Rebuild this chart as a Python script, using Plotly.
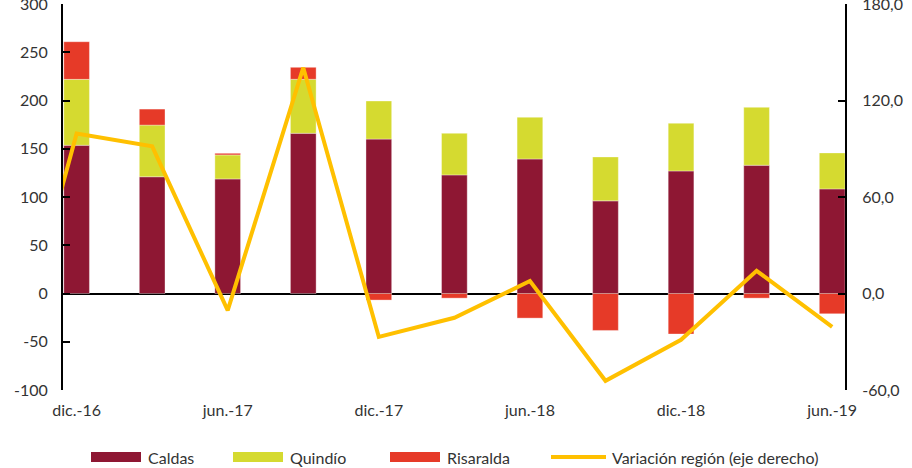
import plotly.graph_objects as go

# quarters; the first one only carries the line segment entering from the left edge
quarters = ["sep.-16", "dic.-16", "mar.-17", "jun.-17", "sep.-17", "dic.-17", "mar.-18",
            "jun.-18", "sep.-18", "dic.-18", "mar.-19", "jun.-19"]
bar_quarters = quarters[1:]

caldas = [153.6, 121.0, 118.7, 166.0, 160.0, 122.9, 139.4, 96.0, 127.0, 132.9, 108.4]
quindio = [68.3, 53.5, 24.9, 56.0, 39.5, 43.1, 43.2, 45.5, 49.4, 60.0, 37.3]
risaralda = [39.0, 16.6, 1.7, 12.4, -6.8, -4.8, -25.5, -38.3, -42.0, -4.8, -21.0]
variacion = [-73.0, 99.4, 91.5, -10.5, 140.4, -27.0, -15.1, 7.8, -54.3, -28.8, 14.1, -20.7]

left_ticks = [-100, -50, 0, 50, 100, 150, 200, 250, 300]
right_ticks = [-60, 0, 60, 120, 180]
right_labels = ["-60,0", "0,0", "60,0", "120,0", "180,0"]

C_CALDAS = "#8E1733"
C_QUINDIO = "#D5DA30"
C_RISARALDA = "#E63A28"
C_LINE = "#FFC000"
FONT = "Lato, sans-serif"
TXT = "#333333"

fig = go.Figure()
for name, vals, col in [("Caldas", caldas, C_CALDAS),
                        ("Quindío", quindio, C_QUINDIO),
                        ("Risaralda", risaralda, C_RISARALDA)]:
    fig.add_trace(go.Bar(
        x=bar_quarters, y=vals, name=name, width=0.34,
        marker=dict(color=col, line=dict(color="rgba(255,255,255,0.35)", width=1)),
    ))

fig.add_trace(go.Scatter(
    x=quarters, y=variacion, name="Variación región (eje derecho)", yaxis="y2",
    mode="lines", line=dict(color=C_LINE, width=4),
))

fig.update_layout(
    width=912, height=468,
    margin=dict(l=63, r=67, t=4, b=78, autoexpand=False),
    paper_bgcolor="white", plot_bgcolor="white",
    barmode="relative",
    showlegend=False,
    font=dict(family=FONT, size=16, color=TXT),
    xaxis=dict(
        type="category", categoryorder="array", categoryarray=quarters,
        range=[0.82, 11.17], tickvals=quarters[1::2], ticktext=quarters[1::2],
        showgrid=False, showline=False, ticks="", zeroline=False,
        ticklabelstandoff=9, automargin=False,
    ),
    yaxis=dict(
        range=[-100, 300], tickvals=left_ticks, ticktext=[str(v) for v in left_ticks],
        showgrid=False, showline=True, linecolor="black", linewidth=2,
        ticks="inside", ticklen=7, tickwidth=2, tickcolor="black",
        zeroline=True, zerolinecolor="black", zerolinewidth=2,
        layer="above traces", ticklabelstandoff=10, automargin=False,
        ticklabeloverflow="allow",
    ),
    yaxis2=dict(
        overlaying="y", side="right", range=[-60, 180],
        tickvals=right_ticks, ticktext=right_labels,
        showgrid=False, showline=True, linecolor="black", linewidth=2,
        ticks="inside", ticklen=7, tickwidth=2, tickcolor="black",
        zeroline=False, ticklabelstandoff=12, automargin=False,
        ticklabeloverflow="allow",
    ),
)

# hand-drawn legend below the plot (pixel positions converted to paper coords)
def px_x(p):
    return (p - 63) / 782

def px_y(p):
    return (390 - p) / 386

legend_items = [("Caldas", C_CALDAS, 91, "rect"),
                ("Quindío", C_QUINDIO, 233, "rect"),
                ("Risaralda", C_RISARALDA, 390, "rect"),
                ("Variación región (eje derecho)", C_LINE, 551, "line")]
for label, col, x0, kind in legend_items:
    if kind == "rect":
        fig.add_shape(type="rect", xref="paper", yref="paper",
                      x0=px_x(x0), x1=px_x(x0 + 50), y0=px_y(462), y1=px_y(452),
                      fillcolor=col, line=dict(width=0))
        tx = x0 + 55
    else:
        fig.add_shape(type="line", xref="paper", yref="paper",
                      x0=px_x(x0), x1=px_x(x0 + 55), y0=px_y(457), y1=px_y(457),
                      line=dict(color=col, width=4))
        tx = x0 + 59
    fig.add_annotation(text=label, xref="paper", yref="paper", x=px_x(tx), y=px_y(457),
                       xanchor="left", yanchor="middle", showarrow=False,
                       font=dict(family=FONT, size=16, color=TXT))

# the page's default body margin would push the figure 8px off
fig.write_html("out.html", config={"displayModeBar": False},
               post_script="document.body.style.margin='0';")
